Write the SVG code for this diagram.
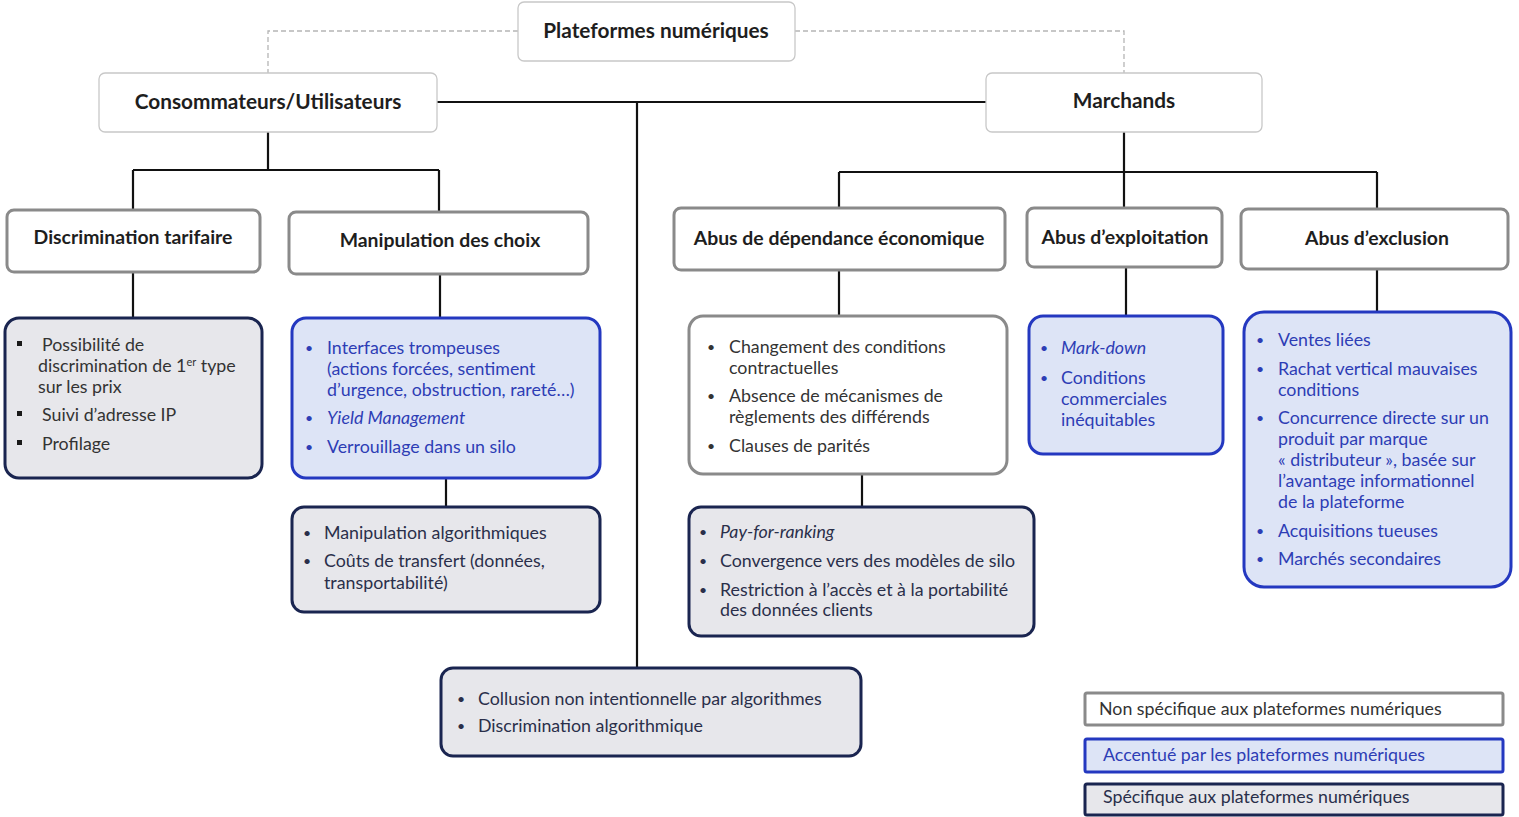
<svg xmlns="http://www.w3.org/2000/svg" width="1519" height="817" viewBox="0 0 1519 817">
<style>
text{font-family:Lato,"Liberation Sans",sans-serif;}
.hd{font-size:20.8px;font-weight:bold;fill:#1e1e1e;text-anchor:middle;}
.hc{font-size:19.4px;}
.top{fill:#fff;stroke:#c8c8c8;stroke-width:1.3;}
.cat{fill:#fff;stroke:#8a8a8a;stroke-width:3;}
.gen{fill:#fff;stroke:#8a8a8a;stroke-width:3;}
.acc{fill:#dde4f6;stroke:#2438c0;stroke-width:3;}
.spe{fill:#e7e7eb;stroke:#1a2550;stroke-width:3;}
.t{font-size:17.8px;}
.tg{fill:#333;}
.tb{fill:#2d3db5;}
.ts{fill:#2a2f4a;}
.i{font-style:italic;}
.b{font-size:14px;}
.ln{stroke:#111;stroke-width:2.2;fill:none;}
.dash{stroke:#b5b5b5;stroke-width:1.3;fill:none;stroke-dasharray:5 3;}
</style>
<g id="connectors">
<path class="dash" d="M518 31H268V73M795 31H1124V73"/>
<path class="ln" d="M437 102H986M637 102V668"/>
<path class="ln" d="M268 132V170M133 170H439M133 170V210M439 170V212"/>
<path class="ln" d="M1124 132V172M839 172H1377M839 172V208M1124 172V208M1377 172V209"/>
<path class="ln" d="M133 272V318M440 274V318M446 478V507M839 270V316M862 474V507M1126 267V316M1377 269V312"/>
</g>
<g id="n-plateformes"><rect class="top" x="518" y="2" width="277" height="59" rx="6"/><text class="hd" x="656" y="38">Plateformes numériques</text></g>
<g id="n-consommateurs"><rect class="top" x="99" y="73" width="338" height="59" rx="6"/><text class="hd" x="268" y="109">Consommateurs/Utilisateurs</text></g>
<g id="n-marchands"><rect class="top" x="986" y="73" width="276" height="59" rx="6"/><text class="hd" x="1124" y="108">Marchands</text></g>
<g id="n-discrimination"><rect class="cat" x="7" y="210" width="253" height="62" rx="7"/><text class="hd hc" x="133" y="244">Discrimination tarifaire</text></g>
<g id="n-manipulation"><rect class="cat" x="289" y="212" width="299" height="62" rx="7"/><text class="hd hc" x="440" y="247">Manipulation des choix</text></g>
<g id="n-dependance"><rect class="cat" x="674" y="208" width="331" height="62" rx="7"/><text class="hd hc" x="839" y="245">Abus de dépendance économique</text></g>
<g id="n-exploitation"><rect class="cat" x="1027" y="208" width="195" height="59" rx="7"/><text class="hd hc" x="1125" y="244">Abus d’exploitation</text></g>
<g id="n-exclusion"><rect class="cat" x="1241" y="209" width="267" height="60" rx="7"/><text class="hd hc" x="1377" y="245">Abus d’exclusion</text></g>

<g id="n-discr-list"><rect class="spe" x="5" y="318" width="257" height="160" rx="14"/>
<g fill="#1a1a1a"><rect x="17" y="341" width="5" height="5"/><rect x="17" y="411" width="5" height="5"/><rect x="17" y="440" width="5" height="5"/></g>
<g class="t tg"><text x="42" y="351">Possibilité de</text><text x="38" y="372">discrimination de 1<tspan font-size="11" dy="-6">er</tspan><tspan dy="6"> type</tspan></text><text x="38" y="393">sur les prix</text><text x="42" y="421">Suivi d’adresse IP</text><text x="42" y="450">Profilage</text></g></g>

<g id="n-manip-list"><rect class="acc" x="292" y="318" width="308" height="160" rx="14"/>
<g class="t tb"><text class="b" x="305" y="353">•</text><text x="327" y="354">Interfaces trompeuses</text><text x="327" y="375">(actions forcées, sentiment</text><text x="327" y="396">d’urgence, obstruction, rareté…)</text><text class="b" x="305" y="423">•</text><text class="i" x="327" y="424">Yield Management</text><text class="b" x="305" y="452">•</text><text x="327" y="453">Verrouillage dans un silo</text></g></g>

<g id="n-manip-spec"><rect class="spe" x="292" y="507" width="308" height="105" rx="12"/>
<g class="t ts"><text class="b" x="303" y="538">•</text><text x="324" y="539">Manipulation algorithmiques</text><text class="b" x="303" y="566">•</text><text x="324" y="567">Coûts de transfert (données,</text><text x="324" y="589">transportabilité)</text></g></g>

<g id="n-dep-list"><rect class="gen" x="689" y="316" width="318" height="158" rx="14"/>
<g class="t tg"><text class="b" x="707" y="352">•</text><text x="729" y="353">Changement des conditions</text><text x="729" y="374">contractuelles</text><text class="b" x="707" y="401">•</text><text x="729" y="402">Absence de mécanismes de</text><text x="729" y="423">règlements des différends</text><text class="b" x="707" y="451">•</text><text x="729" y="452">Clauses de parités</text></g></g>

<g id="n-dep-spec"><rect class="spe" x="689" y="507" width="345" height="129" rx="12"/>
<g class="t ts"><text class="b" x="699" y="537">•</text><text class="i" x="720" y="538">Pay-for-ranking</text><text class="b" x="699" y="566">•</text><text x="720" y="567">Convergence vers des modèles de silo</text><text class="b" x="699" y="595">•</text><text x="720" y="596">Restriction à l’accès et à la portabilité</text><text x="720" y="616">des données clients</text></g></g>

<g id="n-expl-list"><rect class="acc" x="1029" y="316" width="194" height="138" rx="14"/>
<g class="t tb"><text class="b" x="1040" y="353">•</text><text class="i" x="1061" y="354">Mark-down</text><text class="b" x="1040" y="383">•</text><text x="1061" y="384">Conditions</text><text x="1061" y="405">commerciales</text><text x="1061" y="426">inéquitables</text></g></g>

<g id="n-excl-list"><rect class="acc" x="1244" y="312" width="267" height="275" rx="20"/>
<g class="t tb"><text class="b" x="1256" y="345">•</text><text x="1278" y="346">Ventes liées</text><text class="b" x="1256" y="374">•</text><text x="1278" y="375">Rachat vertical mauvaises</text><text x="1278" y="396">conditions</text><text class="b" x="1256" y="423">•</text><text x="1278" y="424">Concurrence directe sur un</text><text x="1278" y="445">produit par marque</text><text x="1278" y="466">« distributeur », basée sur</text><text x="1278" y="487">l’avantage informationnel</text><text x="1278" y="508">de la plateforme</text><text class="b" x="1256" y="536">•</text><text x="1278" y="537">Acquisitions tueuses</text><text class="b" x="1256" y="564">•</text><text x="1278" y="565">Marchés secondaires</text></g></g>

<g id="n-algo"><rect class="spe" x="441" y="668" width="420" height="88" rx="12"/>
<g class="t ts"><text class="b" x="457" y="704">•</text><text x="478" y="705">Collusion non intentionnelle par algorithmes</text><text class="b" x="457" y="731">•</text><text x="478" y="732">Discrimination algorithmique</text></g></g>

<g id="legend">
<rect class="gen" x="1085" y="693" width="418" height="32" rx="2"/><text class="t tg" x="1099" y="715">Non spécifique aux plateformes numériques</text>
<rect class="acc" x="1085" y="739" width="418" height="33" rx="2"/><text class="t tb" x="1103" y="761">Accentué par les plateformes numériques</text>
<rect class="spe" x="1085" y="784" width="418" height="31" rx="2"/><text class="t ts" x="1103" y="803">Spécifique aux plateformes numériques</text>
</g>
</svg>
